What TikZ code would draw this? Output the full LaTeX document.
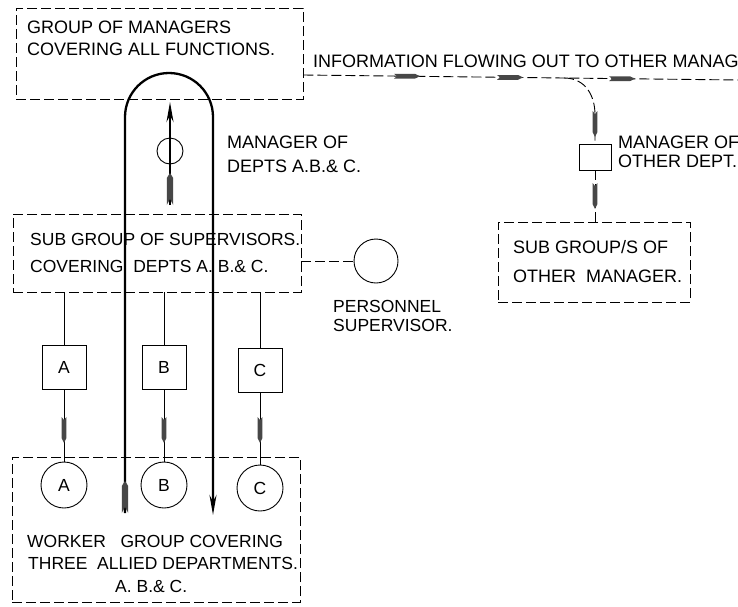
\documentclass[tikz,border=0pt]{standalone}
\usepackage{fontspec}
\setmainfont{Liberation Sans}
\usetikzlibrary{arrows.meta,calc}
\tikzset{
  dart/.pic={\fill[black!72] (-13,-2.4) -- (8,-2.4) -- (13,0) -- (8,2.4) -- (-13,2.4) -- (-10,0) -- cycle;},
  fletch/.pic={\fill[black!72] (-3.2,0) -- (-3.2,-27) -- (0,-32) -- (3.2,-27) -- (3.2,0) -- (0,-6) -- cycle;}
}
\begin{document}
\begin{tikzpicture}[x=1pt,y=-1pt,
  dbox/.style={draw, dash pattern=on 10pt off 4pt, line width=0.9pt, inner sep=0pt},
  sbox/.style={draw, line width=0.9pt, inner sep=0pt},
  ring/.style={draw, circle, line width=0.9pt, inner sep=0pt},
  txt/.style={font=\fontsize{17.5}{22}\selectfont, anchor=base west, inner sep=0pt},
  btxt/.style={txt, font=\fontsize{18}{22}\selectfont},
  ctxt/.style={font=\fontsize{17.5}{22}\selectfont, inner sep=0pt},
  dline/.style={dash pattern=on 10pt off 4pt, line width=0.9pt},
  sline/.style={line width=0.8pt},
  flow/.style={line width=2.3pt},
  tip/.style={-{Stealth[length=20pt,width=7pt]}}
]
\fill[white] (0,0) rectangle (738,606);
\useasboundingbox (0,0) rectangle (738,606);

% top group of managers
\node[dbox, minimum width=287pt, minimum height=91pt] (top) at (159.5,53.5) {};
\node[btxt] (t1) at (27,33) {GROUP OF MANAGERS};
\node[btxt] (t2) at (27,55) {COVERING ALL FUNCTIONS.};

% information flowing out
\node[btxt] (info) at (313,67) {INFORMATION FLOWING OUT TO OTHER MANAG};
\coordinate (infoL) at (303,75);
\coordinate (infoend) at (738,80);
\draw[dline] (top.east |- infoL) -- (infoend);
\coordinate (br) at ($(infoL)!0.6!(infoend)$);
\pic at (407,76.2) {dart};
\pic at (510,77.4) {dart};
\pic at (622,78.7) {dart};

% other manager
\node[sbox, minimum width=32pt, minimum height=26pt] (om) at (595,157) {};
\node[btxt] (om1) at (618,148) {MANAGER OF};
\node[btxt] (om2) at (618,167) {OTHER DEPT.};
\draw[dline] (br) .. controls (585,78) and (595,95) .. (595,115) -- (om.north);
\node[dbox, minimum width=192pt, minimum height=80pt] (osg) at (594,262) {};
\draw[dline] (om.south) -- (om.south |- osg.north);
\pic[rotate=-90] at (595,124) {dart};
\pic[rotate=-90] at (595,196) {dart};
\node[btxt] (osg1) at (513,253) {SUB GROUP/S OF};
\node[btxt] (osg2) at (513,282) {OTHER\ \ MANAGER.};

% manager of depts A B C
\node[ring, minimum size=26pt] (mgr) at (170,151) {};
\node[btxt] (mg1) at (227,148) {MANAGER OF};
\node[btxt] (mg2) at (227,172) {DEPTS A.B.\& C.};
\coordinate (ca1) at (170,205);
\coordinate (ca2) at (170,102);
\draw[flow, tip] (ca1) -- (ca2);
\pic at (ca1) {fletch};

% sub group of supervisors
\node[dbox, minimum width=288pt, minimum height=78pt] (sub) at (157,253) {};
\node[txt] (s1) at (30,245) {SUB GROUP OF SUPERVISORS.};
\node[txt] (s2) at (30,272) {COVERING\ \ DEPTS A. B.\& C.};

% personnel supervisor
\node[ring, minimum size=44pt] (pers) at (376,261) {};
\draw[dline] (pers.west -| sub.east) -- (pers.west);
\node[txt] (p1) at (333,312) {PERSONNEL};
\node[txt] (p2) at (333,331) {SUPERVISOR.};

% worker group
\node[dbox, minimum width=288pt, minimum height=145pt] (wk) at (156,529.5) {};
\node[txt] (w1) at (27,547) {WORKER\ \ \ GROUP COVERING};
\node[txt] (w2) at (28,569) {THREE\ \ ALLIED DEPARTMENTS.};
\node[txt] (w3) at (115,592) {A. B.\& C.};

% department boxes and worker circles
\foreach \n/\x/\yb/\yc in {A/64/367/485, B/164/367/485, C/260/370/488}{
  \node[sbox, minimum width=44pt, minimum height=44pt, ctxt] (b\n) at (\x,\yb) {\n};
  \node[ring, minimum size=46pt, ctxt] (c\n) at (\x,\yc) {\n};
  \draw[sline] (b\n.north |- sub.south) -- (b\n.north);
  \draw[sline] (b\n.south) -- (c\n.north);
  \pic[rotate=-90] at (\x,430) {dart};
}

% information loop (arch)
\coordinate (lb) at (125,513);
\coordinate (rb) at (213,515);
\draw[flow, tip] (lb) -- (125,117) .. controls (125,92.7) and (144.7,73) .. (169,73)
  .. controls (193.3,73) and (213,92.7) .. (213,117) -- (rb);
\pic at (lb) {fletch};
\end{tikzpicture}
\end{document}
